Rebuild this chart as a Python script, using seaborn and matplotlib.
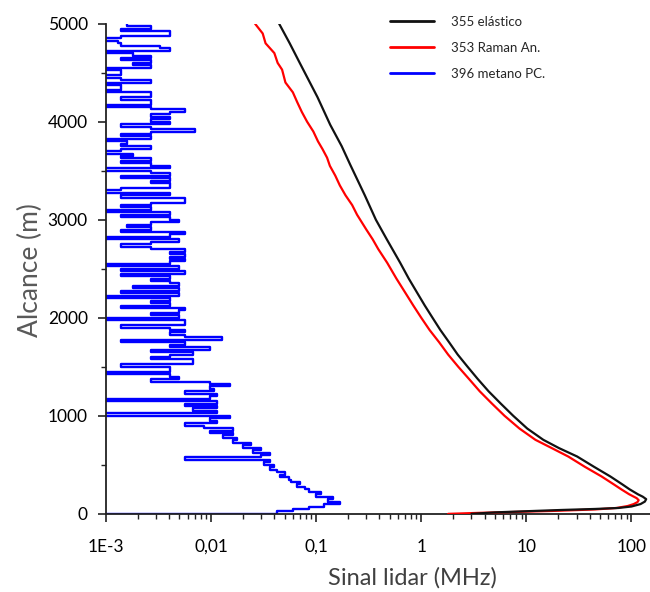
import numpy as np
import pandas as pd
import matplotlib
matplotlib.use("Agg")
import matplotlib.pyplot as plt
from matplotlib.ticker import LogLocator, NullFormatter, MultipleLocator
import seaborn as sns

# ---------------- data ----------------
elastic_alt = [0, 15, 30, 40, 50, 60, 75, 100, 125, 150, 175, 200, 250, 300, 381, 480,
               585, 670, 755, 870, 1000, 1125, 1250, 1375, 1500, 1625, 1750, 1875, 2000,
               2125, 2250, 2400, 2561, 2800, 3000, 3250, 3561, 3750, 3969, 4250, 4592,
               4800, 5000]
elastic_sig = [3.0, 5.0, 12, 22, 45, 75, 100, 122, 134, 138, 128, 115, 96, 82, 63, 44,
               30.4, 20.5, 14.5, 10.2, 7.5, 5.7, 4.37, 3.45, 2.76, 2.22, 1.84, 1.52, 1.28,
               1.08, 0.92, 0.76, 0.63, 0.47, 0.37, 0.29, 0.211, 0.175, 0.136, 0.103, 0.0704,
               0.056, 0.0444]

raman_alt = [0, 10, 20, 30, 45, 60, 80, 100, 120, 140, 160, 200, 250, 300, 381, 480, 585,
             670, 755, 870, 1000, 1125, 1250, 1375, 1500, 1625, 1750, 1875, 2000, 2125,
             2250, 2400, 2561, 2700, 2800, 2900, 3051, 3150, 3250, 3350, 3450, 3550, 3633,
             3720, 3800, 3900, 4000, 4100, 4200, 4300, 4400, 4531, 4600, 4700, 4800, 4900,
             5000]
raman_sig = [1.8, 3.5, 8, 18, 45, 72, 92, 105, 114, 117, 112, 95, 80, 68, 52, 36, 25,
             17.5, 12.2, 8.6, 6.2, 4.7, 3.6, 2.85, 2.25, 1.8, 1.48, 1.2, 1.0, 0.84,
             0.71, 0.58, 0.474, 0.39, 0.345, 0.3, 0.245, 0.22, 0.19, 0.168, 0.152, 0.135,
             0.127, 0.115, 0.104, 0.094, 0.082, 0.073, 0.066, 0.06, 0.051, 0.0474, 0.043,
             0.04, 0.033, 0.031, 0.0262]

# methane photon-counting signal, one value per 25 m bin starting at 0 m
# (3e-4 = zero counts, falls left of the axis)
metano_step_m = 25
metano_sig = [
    3e-4, 0.042, 0.06, 0.085, 0.12, 0.17, 0.13, 0.145, 0.10, 0.11,
    0.085, 0.078, 0.065, 0.07, 0.058, 0.055, 0.045, 0.05, 0.042, 0.036,
    0.04, 0.032, 0.036, 0.0056, 0.03, 0.036, 0.025, 0.03, 0.02, 0.024,
    0.016, 0.0177, 0.013, 0.016, 0.0098, 0.0162, 0.0085, 0.0056, 0.0114, 0.0098,
    0.0152, 3e-4, 0.0114, 0.0067, 0.0114, 0.0056, 0.0114, 3e-4, 0.0098, 0.0114,
    0.0056, 0.0107, 0.0098, 0.0152, 0.0098, 0.0027, 0.005, 0.0041, 3e-4, 0.0041,
    0.0041, 0.0014, 0.0067, 0.0067, 0.0027, 0.0041, 0.0067, 0.0027, 0.0098, 0.0041,
    0.0056, 0.0014, 0.0127, 0.0056, 0.0041, 0.0056, 0.0041, 0.0014, 0.0056, 0.0056,
    3e-4, 0.005, 0.0027, 0.005, 0.0056, 0.0014, 0.0041, 0.0027, 0.0041, 3e-4,
    0.005, 0.0014, 0.005, 0.0018, 0.005, 0.0041, 0.0027, 0.0041, 0.0014, 0.0056,
    0.0014, 0.005, 3e-4, 0.0041, 0.0056, 0.0041, 0.0056, 0.0041, 0.0056, 0.0027,
    0.0014, 0.0027, 0.005, 3e-4, 0.0041, 0.0056, 0.0014, 0.0027, 0.0016, 0.0027,
    0.005, 0.0041, 0.0014, 0.0041, 3e-4, 0.0027, 0.0014, 0.0027, 0.0056, 0.0056,
    0.0014, 0.0041, 3e-4, 0.0014, 0.0041, 0.0041, 0.0027, 0.0041, 0.0014, 0.0041,
    0.0027, 3e-4, 0.0041, 0.0027, 0.0014, 0.0027, 0.0014, 0.0018, 3e-4, 0.0014,
    0.0027, 0.0014, 0.0016, 3e-4, 0.0027, 0.0014, 0.0027, 0.007, 0.0027, 0.0014,
    0.0041, 0.0027, 0.0041, 0.0027, 0.0041, 0.0056, 0.0027, 3e-4, 0.0027, 0.0027,
    0.0014, 0.0027, 0.0027, 3e-4, 0.0014, 0.0014, 3e-4, 0.0027, 0.0014, 3e-4,
    0.0014, 0.0014, 3e-4, 0.0027, 0.0018, 0.0027, 0.0014, 0.0027, 0.0018, 3e-4,
    0.0041, 0.0033, 0.0014, 0.0013, 3e-4, 0.0014, 0.0041, 0.0041, 0.0014, 0.0027,
    0.0016,
]
metano_alt = np.arange(len(metano_sig)) * metano_step_m

series_labels = ["355 elástico", "353 Raman An.", "396 metano PC."]
x_ticks = [1e-3, 1e-2, 1e-1, 1, 10, 100]
x_tick_labels = ["1E-3", "0,01", "0,1", "1", "10", "100"]
y_ticks = [0, 1000, 2000, 3000, 4000, 5000]

# ---------------- plot ----------------
sns.set_style("ticks")
plt.rcParams["font.family"] = ["Lato", "DejaVu Sans"]

fig = plt.figure(figsize=(6.5, 5.92), dpi=100)
ax = fig.add_axes([0.163, 0.132, 0.837, 0.828])

sns.lineplot(x=metano_sig, y=metano_alt, sort=False, estimator=None, ax=ax,
             color="#0000ff", lw=1.7, label=series_labels[2], zorder=2,
             drawstyle="steps-post")
sns.lineplot(x=raman_sig, y=raman_alt, sort=False, estimator=None, ax=ax,
             color="#ff0000", lw=1.6, label=series_labels[1], zorder=3)
sns.lineplot(x=elastic_sig, y=elastic_alt, sort=False, estimator=None, ax=ax,
             color="#111111", lw=1.6, label=series_labels[0], zorder=4)

ax.set_xscale("log")
ax.set_xlim(1e-3, 150)
ax.set_ylim(0, 5000)
ax.set_xticks(x_ticks, x_tick_labels)
ax.xaxis.set_minor_locator(LogLocator(base=10, subs=np.arange(2, 10)))
ax.xaxis.set_minor_formatter(NullFormatter())
ax.set_yticks(y_ticks, [str(t) for t in y_ticks])
ax.yaxis.set_minor_locator(MultipleLocator(500))

sns.despine(ax=ax)
for s in ("left", "bottom"):
    ax.spines[s].set_linewidth(1.3)
    ax.spines[s].set_color("#222222")
ax.tick_params(axis="both", which="major", length=6, width=1.2, color="#222222",
               labelsize=12.5, labelcolor="#000000")
ax.tick_params(axis="both", which="minor", length=3.5, width=1.0, color="#222222")
ax.tick_params(axis="x", which="major", pad=12)
ax.tick_params(axis="y", which="major", pad=7)

ax.set_xlabel("")
ax.set_ylabel("")
fig.text(412 / 650, 1 - 578 / 592, "Sinal lidar (MHz)", ha="center", va="center",
         fontsize=17, color="#404040")
fig.text(30 / 650, 1 - 270 / 592, "Alcance (m)", ha="center", va="center",
         rotation=90, fontsize=19, color="#595959")

handles, labels = ax.get_legend_handles_labels()
order = [labels.index(l) for l in series_labels]
leg = ax.legend([handles[i] for i in order], [labels[i] for i in order],
                loc="upper left", bbox_to_anchor=(390 / 650, 1 - 16 / 592),
                bbox_transform=fig.transFigure, frameon=False, fontsize=9.5,
                handlelength=3.3, handletextpad=1.3, labelspacing=1.05,
                borderpad=0, borderaxespad=0)
for line in leg.get_lines():
    line.set_linewidth(2.0)
    line.set_drawstyle("default")

fig.savefig("out.png", dpi=100)
